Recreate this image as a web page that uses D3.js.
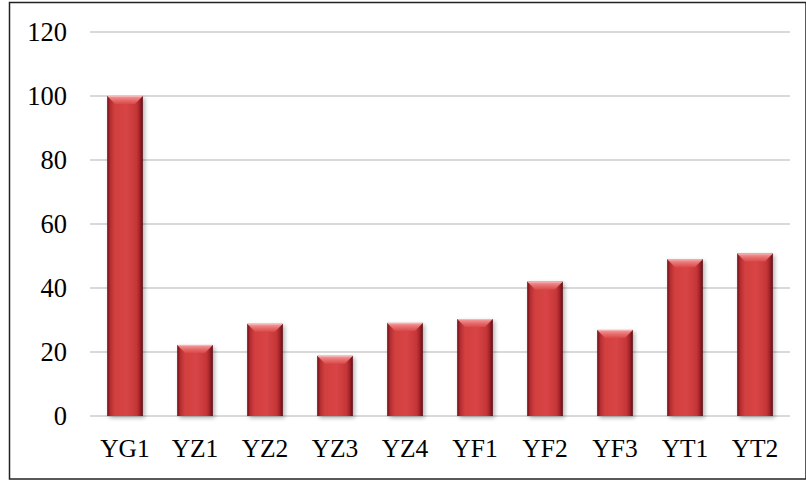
<!DOCTYPE html>
<html>
<head>
<meta charset="utf-8">
<script src="https://cdn.jsdelivr.net/npm/d3@7"></script>
<style>
  html, body { margin: 0; padding: 0; background: #fff; }
  svg { display: block; }
</style>
</head>
<body>
<svg id="chart" width="806" height="481"></svg>
<script>
// Sample groups and their relative values
const categories = ["YG1", "YZ1", "YZ2", "YZ3", "YZ4", "YF1", "YF2", "YF3", "YT1", "YT2"];
const values = [100, 22.2, 28.8, 18.8, 29.1, 30.3, 42.0, 26.9, 49.0, 50.8];
const yTicks = [0, 20, 40, 60, 80, 100, 120];

const svg = d3.select("#chart");
const W = 806, H = 481;
const margin = { left: 90, right: 16, top: 32, bottom: 65 };
const FONT = "'Liberation Serif', 'Times New Roman', serif";

// Outer frame
svg.append("rect")
  .attr("x", 9.5).attr("y", 2.5)
  .attr("width", W - 9.5).attr("height", 476.5)
  .attr("fill", "#fff")
  .attr("stroke", "#222").attr("stroke-width", 1.5);

const x = d3.scaleBand()
  .domain(categories)
  .range([margin.left, W - margin.right])
  .paddingInner(0.49).paddingOuter(0.245);

const y = d3.scaleLinear()
  .domain([0, 120])
  .range([H - margin.bottom, margin.top]);

const defs = svg.append("defs");

// Body shading: darker at the sides, brighter in the middle
const body = defs.append("linearGradient").attr("id", "barBody")
  .attr("x1", "0%").attr("x2", "100%").attr("y1", "0%").attr("y2", "0%");
[["0%", "#6e1416"], ["9%", "#b52e31"], ["22%", "#d2403f"], ["55%", "#d84446"],
 ["82%", "#c53638"], ["92%", "#9d2226"], ["100%", "#5a0f12"]]
  .forEach(([o, c]) => body.append("stop").attr("offset", o).attr("stop-color", c));

// Top bevel highlight
const cap = defs.append("linearGradient").attr("id", "barCap")
  .attr("x1", "0%").attr("x2", "0%").attr("y1", "0%").attr("y2", "100%");
[["0%", "#f4a0a0"], ["50%", "#e86e6e"], ["100%", "#d94a4b"]]
  .forEach(([o, c]) => cap.append("stop").attr("offset", o).attr("stop-color", c));

// Soft shadow behind the bars
const shadow = defs.append("filter").attr("id", "barShadow")
  .attr("x", "-30%").attr("y", "-10%").attr("width", "170%").attr("height", "130%");
shadow.append("feGaussianBlur").attr("in", "SourceAlpha").attr("stdDeviation", 2.2).attr("result", "b");
shadow.append("feOffset").attr("in", "b").attr("dx", 2).attr("dy", 2).attr("result", "o");
shadow.append("feComponentTransfer").attr("in", "o").attr("result", "s")
  .append("feFuncA").attr("type", "linear").attr("slope", 0.3);
const merge = shadow.append("feMerge");
merge.append("feMergeNode").attr("in", "s");
merge.append("feMergeNode").attr("in", "SourceGraphic");

// Gridlines
svg.append("g")
  .selectAll("line")
  .data(yTicks)
  .join("line")
  .attr("x1", margin.left).attr("x2", W - margin.right)
  .attr("y1", d => y(d)).attr("y2", d => y(d))
  .attr("stroke", "#d9d9d9").attr("stroke-width", 2);

// Y axis labels
const yAxis = svg.append("g")
  .attr("transform", `translate(${margin.left - 23},0)`)
  .call(d3.axisLeft(y).tickValues(yTicks).tickSize(0).tickPadding(0));
yAxis.select(".domain").remove();
yAxis.selectAll("text")
  .attr("font-family", FONT)
  .attr("font-size", 26.5).attr("fill", "#000");

// X axis labels
const xAxis = svg.append("g")
  .attr("transform", `translate(0,${H - margin.bottom})`)
  .call(d3.axisBottom(x).tickSize(0).tickPadding(23));
xAxis.select(".domain").remove();
xAxis.selectAll("text")
  .attr("font-family", FONT)
  .attr("font-size", 25.5).attr("fill", "#000");

// Bevelled bars
const bars = svg.append("g")
  .selectAll("g")
  .data(categories.map((c, i) => ({ c, v: values[i] })))
  .join("g")
  .attr("filter", "url(#barShadow)");

const bw = x.bandwidth();
const bev = 8;

bars.append("rect")
  .attr("x", d => x(d.c)).attr("y", d => y(d.v))
  .attr("width", bw).attr("height", d => y(0) - y(d.v))
  .attr("fill", "url(#barBody)");

bars.append("path")
  .attr("d", d => {
    const x0 = x(d.c), y0 = y(d.v), x1 = x0 + bw;
    return `M${x0},${y0}L${x1},${y0}L${x1 - bev},${y0 + bev}L${x0 + bev},${y0 + bev}Z`;
  })
  .attr("fill", "url(#barCap)");

// Thin light rim along the top edge
bars.append("line")
  .attr("x1", d => x(d.c) + 1).attr("x2", d => x(d.c) + bw - 1)
  .attr("y1", d => y(d.v) + 0.5).attr("y2", d => y(d.v) + 0.5)
  .attr("stroke", "#f6b3b3").attr("stroke-width", 1);
</script>
</body>
</html>
